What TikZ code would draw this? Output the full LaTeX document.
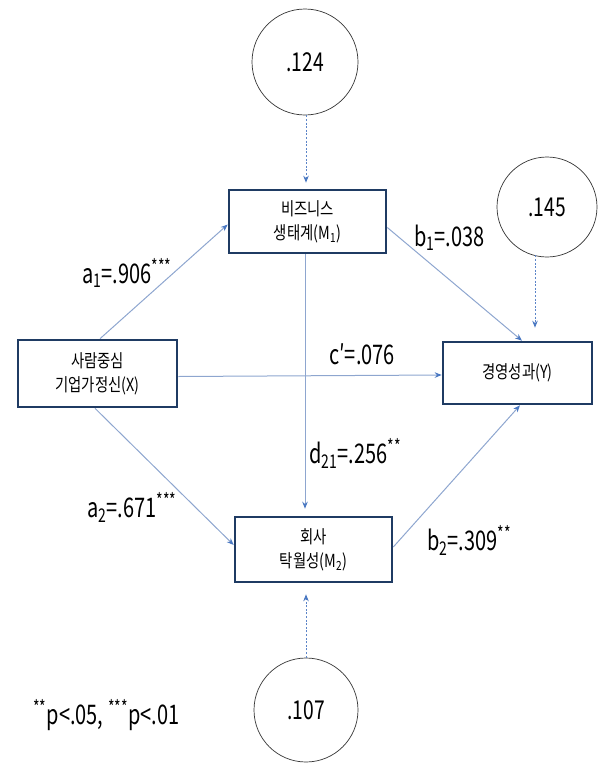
\documentclass[tikz,border=0pt]{standalone}
\usepackage{fontspec}
\setmainfont{Noto Sans CJK KR}
\newfontfamily\labfont[FakeStretch=0.74]{Noto Sans CJK KR}
\newfontfamily\boxfont[FakeStretch=0.8]{Noto Sans CJK KR}
\usetikzlibrary{arrows.meta,calc}
\definecolor{boxline}{HTML}{1F3B63}
\definecolor{arrline}{HTML}{8EA6CF}
\definecolor{tipblue}{HTML}{4A78C2}
\definecolor{dashblue}{HTML}{5B84C8}
\tikzset{
  varbox/.style={draw=boxline, line width=2.6pt, fill=white, rectangle, inner sep=0pt,
    align=center, font=\boxfont\fontsize{18}{24}\selectfont},
  errc/.style={draw=black!80, line width=0.7pt, circle, inner sep=0pt,
    font=\labfont\fontsize{26}{28}\selectfont},
  patharrow/.style={draw=arrline, line width=1pt, -{Stealth[length=7pt,width=5.5pt,color=tipblue,fill=tipblue]}},
  errarrow/.style={draw=dashblue, line width=0.9pt, dash pattern=on 2pt off 1.6pt,
    -{Stealth[length=7pt,width=5.5pt,color=tipblue,fill=tipblue]}},
  lab/.style={inner sep=0pt, anchor=base west, font=\labfont\fontsize{27}{30}\selectfont},
}
\begin{document}
\begin{tikzpicture}[x=1pt,y=-1pt]
\useasboundingbox (0,0) rectangle (601,763);
% variable boxes
\node[varbox, minimum width=159pt, minimum height=67pt] (X) at (97.5,373.5) {사람중심\\기업가정신(X)};
\node[varbox, minimum width=157pt, minimum height=63pt] (M1) at (307.5,221.5) {비즈니스\\생태계(M\textsubscript{1})};
\node[varbox, minimum width=157pt, minimum height=65pt] (M2) at (313.5,549.5) {회사\\탁월성(M\textsubscript{2})};
\node[varbox, minimum width=149pt, minimum height=62pt] (Y) at (517.5,373) {경영성과(Y)};
% error circles
\node[errc, minimum size=106pt] (E1) at (305,62) {.124};
\node[errc, minimum size=100pt] (E3) at (547,207) {.145};
\node[errc, minimum size=104pt] (E2) at (306,710) {.107};
% structural paths
\draw[patharrow] ($(X.north)+(2.5,0)$) -- ($(M1.west)+(0,3)$);
\draw[patharrow] ($(X.east)+(0,3)$) -- ($(Y.west)+(0,2)$);
\draw[patharrow] ($(X.south)+(-2.5,0)$) -- ($(M2.west)+(0,-4.5)$);
\draw[patharrow] (M1.south -| 305,0) -- ($(M2.north -| 305,0)+(0,-7)$);
\draw[patharrow] ($(M1.east)+(0,6)$) -- ($(Y.north)+(4.5,0)$);
\draw[patharrow] ($(M2.east)+(0,-2.5)$) -- ($(Y.south)+(2.5,0)$);
% error paths
\draw[errarrow] (E1.south -| 306,0) -- ($(M1.north -| 306,0)+(0,-6)$);
\draw[errarrow] ($(E3.south -| 535,0)+(0,-2)$) -- ($(Y.north -| 535,0)+(0,-13)$);
\draw[errarrow] (E2.north) -- ($(M2.south)+(-7.5,11)$);
% coefficient labels
\node[lab] (la1) at (82,283) {a\textsubscript{1}=.906\textsuperscript{***}};
\node[lab] (lb1) at (414,246) {b\textsubscript{1}=.038};
\node[lab] (lc) at (329,364) {c′=.076};
\node[lab] (ld) at (309,463) {d\textsubscript{21}=.256\textsuperscript{**}};
\node[lab] (la2) at (87,517) {a\textsubscript{2}=.671\textsuperscript{***}};
\node[lab] (lb2) at (427,550) {b\textsubscript{2}=.309\textsuperscript{**}};
\node[lab, font=\labfont\fontsize{27}{30}\selectfont] (fn) at (33,724) {\textsuperscript{**}p<.05, \textsuperscript{***}p<.01};
\end{tikzpicture}
\end{document}
